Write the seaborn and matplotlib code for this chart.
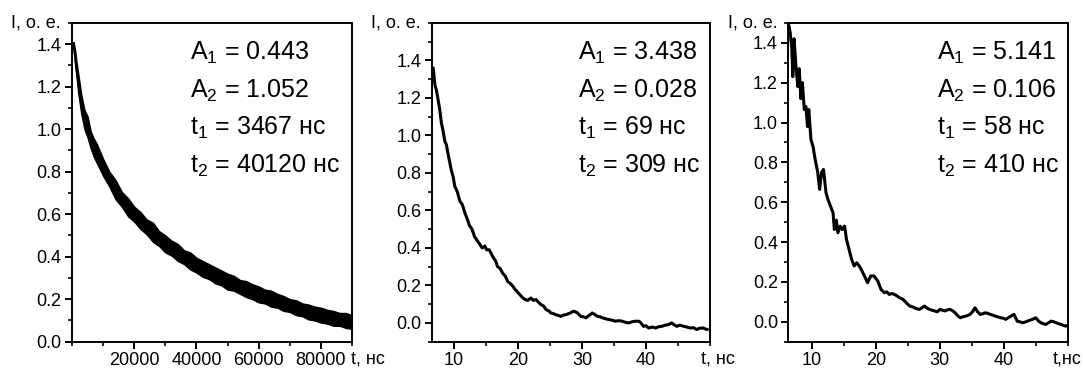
import numpy as np
import pandas as pd
import matplotlib
matplotlib.use("Agg")
import matplotlib.pyplot as plt
from matplotlib.ticker import MultipleLocator, FixedLocator
import seaborn as sns

# ---------------- data ----------------
# Panel 1: dense noisy band, read as upper/lower envelopes
t1 = [500, 1000, 1500, 2000, 3000, 4000, 5000, 6000, 7000, 8000,
      10000, 12000, 14000, 16000, 18000, 20000, 22000, 24000, 26000, 28000,
      30000, 32000, 34000, 36000, 38000, 40000, 42000, 44000, 46000, 48000,
      50000, 52000, 54000, 56000, 58000, 60000, 62000, 64000, 66000, 68000,
      70000, 72000, 74000, 76000, 78000, 80000, 82000, 84000, 86000, 88000, 90000]
i1_upper = [1.41, 1.37, 1.31, 1.26, 1.16, 1.09, 1.06, 0.99, 0.955, 0.93,
            0.86, 0.80, 0.76, 0.705, 0.675, 0.635, 0.61, 0.575, 0.56, 0.52,
            0.50, 0.475, 0.46, 0.43, 0.42, 0.395, 0.38, 0.365, 0.35, 0.335,
            0.32, 0.31, 0.29, 0.285, 0.27, 0.26, 0.245, 0.24, 0.225, 0.215,
            0.20, 0.195, 0.18, 0.175, 0.165, 0.16, 0.15, 0.145, 0.135, 0.135, 0.125]
i1_lower = [1.38, 1.30, 1.24, 1.17, 1.07, 1.00, 0.96, 0.91, 0.87, 0.84,
            0.78, 0.73, 0.67, 0.635, 0.59, 0.565, 0.53, 0.505, 0.47, 0.45,
            0.42, 0.405, 0.38, 0.365, 0.34, 0.325, 0.305, 0.295, 0.275, 0.265,
            0.245, 0.24, 0.225, 0.21, 0.20, 0.185, 0.18, 0.165, 0.16, 0.145,
            0.14, 0.125, 0.12, 0.105, 0.10, 0.09, 0.085, 0.075, 0.075, 0.065, 0.06]

# Panel 2
t2 = [6.48, 6.74, 7.0, 7.25, 7.5, 7.75, 8.0, 8.3, 8.55, 8.8, 9.07, 9.3, 9.6, 9.85, 10.1,
      10.5, 10.9, 11.3, 11.7, 12.0, 12.4, 12.8, 13.2, 13.6, 14.0, 14.4, 14.8, 15.1, 15.5,
      15.8, 16.1, 16.5, 16.8, 17.2, 17.6, 18.0, 18.4, 18.8, 19.2, 19.5, 19.9, 20.3, 20.7,
      21.1, 21.5, 22.0, 22.4, 22.8, 23.2, 23.6, 24.0, 24.4, 24.8, 25.1, 25.5, 25.9, 26.3,
      26.7, 27.1, 27.5, 27.9, 28.2, 28.5, 28.8, 29.3, 29.8, 30.2, 30.6, 31.1, 31.6, 32.0,
      32.4, 32.8, 33.2, 33.7, 34.2, 34.7, 35.2, 35.7, 36.3, 36.8, 37.3, 37.8, 38.3, 38.9,
      39.2, 39.6, 40.0, 40.4, 41.0, 41.5, 42.0, 42.5, 43.0, 43.5, 44.0, 44.4, 44.8, 45.3,
      45.9, 46.4, 46.9, 47.4, 47.9, 48.4, 48.96, 49.3, 49.6]
i2 = [1.356, 1.36, 1.27, 1.24, 1.19, 1.14, 1.07, 1.02, 0.97, 0.95, 0.90, 0.86, 0.81, 0.78, 0.73,
      0.70, 0.65, 0.63, 0.585, 0.56, 0.52, 0.50, 0.46, 0.44, 0.42, 0.40, 0.41, 0.39, 0.39,
      0.37, 0.35, 0.33, 0.30, 0.29, 0.265, 0.25, 0.22, 0.21, 0.195, 0.18, 0.165, 0.15, 0.135,
      0.125, 0.12, 0.133, 0.12, 0.125, 0.11, 0.097, 0.09, 0.07, 0.065, 0.053, 0.05, 0.044, 0.04,
      0.035, 0.042, 0.044, 0.05, 0.053, 0.06, 0.062, 0.053, 0.035, 0.033, 0.027, 0.04, 0.053, 0.045,
      0.035, 0.033, 0.027, 0.022, 0.018, 0.015, 0.009, 0.012, 0.009, 0.003, 0.0, 0.006, 0.009, 0.009,
      0.0, -0.018, -0.015, -0.027, -0.022, -0.027, -0.02, -0.018, -0.012, -0.009, 0.0, -0.01, -0.018, -0.012,
      -0.018, -0.022, -0.027, -0.025, -0.035, -0.028, -0.027, -0.033, -0.035]

# Panel 3
t3 = [6.3, 6.6, 6.85, 7.0, 7.2, 7.5, 7.8, 8.0, 8.26, 8.5, 8.8, 9.05, 9.3, 9.5, 9.84,
      10.16, 10.5, 10.9, 11.2, 11.5, 11.8, 12.2, 12.5, 12.9, 13.3, 13.5, 13.8, 14.05,
      14.4, 14.7, 15.1, 15.4, 15.8, 16.2, 16.6, 17.0, 17.4, 17.7, 18.2, 18.7, 19.2,
      19.7, 20.3, 20.8, 21.3, 21.7, 22.1, 22.5, 22.9, 23.3, 23.7, 24.1, 24.5, 24.9, 25.3,
      25.7, 26.05, 26.4, 26.8, 27.2, 27.6, 28.0, 28.4, 28.8, 29.2, 29.6, 30.0, 30.4, 30.8,
      31.2, 31.6, 32.0, 32.4, 32.8, 33.2, 33.6, 34.0, 34.4, 34.7, 35.1, 35.5, 35.9, 36.3,
      36.7, 37.1, 37.5, 37.9, 38.3, 38.7, 39.1, 39.5, 39.9, 40.3, 40.7, 41.1, 41.6, 42.1,
      42.5, 42.9, 43.3, 43.7, 44.1, 44.5, 45.0, 45.4, 45.8, 46.2, 46.6, 47.0, 47.4, 47.8,
      48.2, 48.6, 48.9, 49.3, 49.7, 50.3]
i3 = [1.50, 1.45, 1.37, 1.23, 1.42, 1.28, 1.18, 1.27, 1.12, 1.20, 1.065, 1.08, 0.98, 1.065, 0.915,
      0.88, 0.815, 0.75, 0.664, 0.75, 0.764, 0.647, 0.614, 0.58, 0.547, 0.463, 0.51, 0.447,
      0.48, 0.463, 0.48, 0.413, 0.363, 0.313, 0.28, 0.296, 0.28, 0.263, 0.23, 0.196, 0.23,
      0.23, 0.204, 0.162, 0.146, 0.15, 0.137, 0.142, 0.137, 0.13, 0.12, 0.115, 0.104, 0.09, 0.079,
      0.075, 0.07, 0.065, 0.062, 0.07, 0.079, 0.068, 0.062, 0.058, 0.054, 0.05, 0.062, 0.058, 0.054,
      0.06, 0.062, 0.055, 0.045, 0.03, 0.02, 0.025, 0.028, 0.032, 0.037, 0.05, 0.07, 0.05, 0.037,
      0.04, 0.045, 0.042, 0.037, 0.033, 0.028, 0.024, 0.02, 0.018, 0.012, 0.02, 0.028, 0.037, 0.003,
      0.0, -0.005, -0.002, 0.003, 0.008, 0.012, 0.02, 0.005, -0.005, -0.01, -0.013, -0.005, 0.003, 0.0,
      -0.005, -0.01, -0.013, -0.018, -0.022, -0.013]

labels1 = ["A$_1$ = 0.443", "A$_2$ = 1.052", "t$_1$ = 3467 нс", "t$_2$ = 40120 нс"]
labels2 = ["A$_1$ = 3.438", "A$_2$ = 0.028", "t$_1$ = 69 нс", "t$_2$ = 309 нс"]
labels3 = ["A$_1$ = 5.141", "A$_2$ = 0.106", "t$_1$ = 58 нс", "t$_2$ = 410 нс"]
ylabel = "I, о. е."
xlabels = ["t, нс", "t, нс", "t,нс"]
yticks = [0.0, 0.2, 0.4, 0.6, 0.8, 1.0, 1.2, 1.4]

# ---------------- style ----------------
sns.set_theme(style="ticks")
plt.rcParams["font.family"] = ["Liberation Sans", "DejaVu Sans"]
plt.rcParams["mathtext.default"] = "regular"
plt.rcParams["text.color"] = "black"
plt.rcParams["axes.labelcolor"] = "black"
plt.rcParams["xtick.color"] = "black"
plt.rcParams["ytick.color"] = "black"
plt.rcParams["axes.edgecolor"] = "black"

fig = plt.figure(figsize=(10.83, 3.72), dpi=100)
pos = [
    [0.0665, 0.0815, 0.2585, 0.857],
    [0.3986, 0.0815, 0.2570, 0.857],
    [0.7279, 0.0815, 0.2580, 0.857],
]
axes = [fig.add_axes(p) for p in pos]

# Panel 1 band via seaborn (min..max interval of the two envelopes)
df1 = pd.DataFrame({"t": t1 + t1, "I": i1_upper + i1_lower})
sns.lineplot(data=df1, x="t", y="I", ax=axes[0], color="black", linewidth=1.2,
             errorbar=("pi", 100), err_kws={"alpha": 1.0, "linewidth": 1.0,
                                             "edgecolor": "black"})
df2 = pd.DataFrame({"t": t2, "I": i2})
sns.lineplot(data=df2, x="t", y="I", ax=axes[1], color="black", linewidth=2.2,
             estimator=None, sort=False)
df3 = pd.DataFrame({"t": t3, "I": i3})
sns.lineplot(data=df3, x="t", y="I", ax=axes[2], color="black", linewidth=2.2,
             estimator=None, sort=False)

limits = [((0, 90000), (0, 1.5)), ((6.5, 50), (-0.1, 1.6)), ((6.3, 50), (-0.1, 1.5))]
text_x = [0.42, 0.527, 0.531]
xlab_x = [0.995, 0.968, 0.947]
all_labels = [labels1, labels2, labels3]

for k, ax in enumerate(axes):
    (xl, yl) = limits[k]
    ax.set_xlim(*xl)
    ax.set_ylim(*yl)
    ax.set_xlabel("")
    ax.set_ylabel("")
    for s in ax.spines.values():
        s.set_visible(True)
        s.set_linewidth(1.4)
        s.set_color("black")
    ax.yaxis.set_major_locator(FixedLocator(yticks))
    ax.yaxis.set_minor_locator(MultipleLocator(0.1))
    if k == 0:
        ax.set_xticks([20000, 40000, 60000, 80000])
        ax.xaxis.set_minor_locator(MultipleLocator(10000))
    else:
        ax.set_xticks([10, 20, 30, 40])
        ax.xaxis.set_minor_locator(MultipleLocator(5))
    ax.tick_params(axis="both", which="major", direction="out", length=5, width=1.4,
                   labelsize=13, pad=2.5)
    ax.tick_params(axis="both", which="minor", direction="out", length=3, width=1.2)
    ax.tick_params(top=False, right=False, which="both")
    ax.text(-0.04, 1.0, ylabel, transform=ax.transAxes, ha="right", va="center",
            fontsize=13)
    ax.text(xlab_x[k], -0.028, xlabels[k], transform=ax.transAxes, ha="left", va="top",
            fontsize=13)
    for j, lab in enumerate(all_labels[k]):
        ax.text(text_x[k], 0.905 - j * 0.1175, lab, transform=ax.transAxes,
                ha="left", va="center", fontsize=18)

fig.savefig("out.png", dpi=100)
